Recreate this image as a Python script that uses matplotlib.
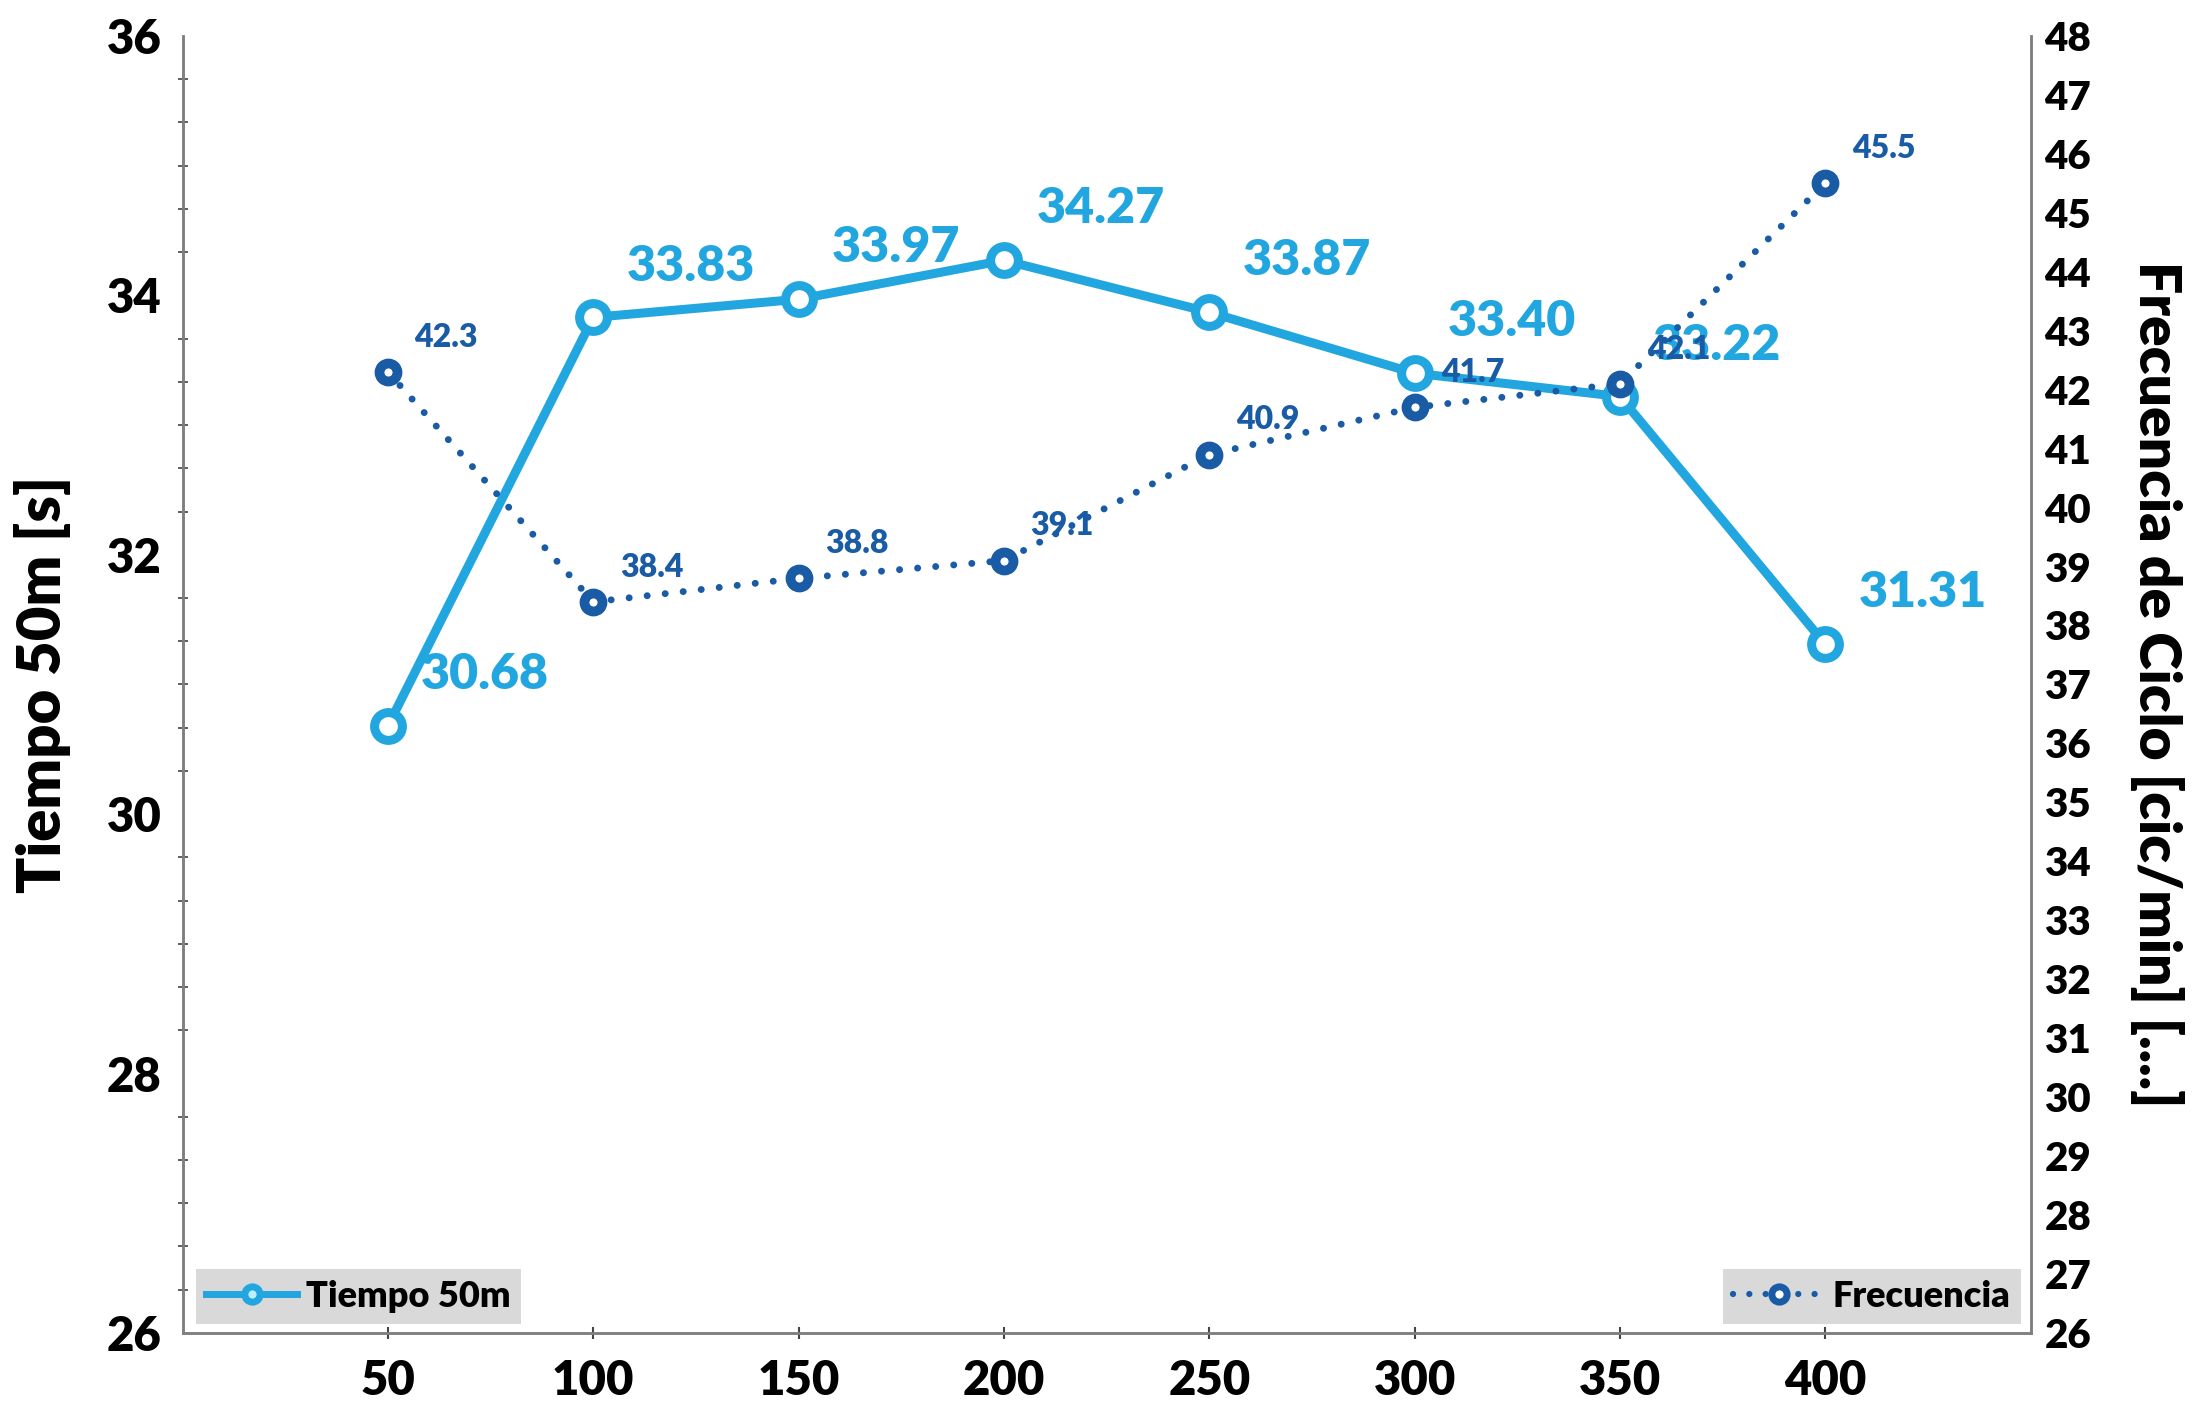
import matplotlib
matplotlib.use("Agg")
import matplotlib.pyplot as plt
from matplotlib.lines import Line2D
from matplotlib.ticker import AutoMinorLocator

plt.rcParams['font.family'] = ['Lato', 'DejaVu Sans']
plt.rcParams['font.weight'] = 'heavy'

# data
distancia = [50, 100, 150, 200, 250, 300, 350, 400]
tiempo = [30.68, 33.83, 33.97, 34.27, 33.87, 33.40, 33.22, 31.31]
frecuencia = [42.3, 38.4, 38.8, 39.1, 40.9, 41.7, 42.1, 45.5]

c_tiempo = '#22A6E0'
c_frec = '#1A5BA6'
c_axis = '#7F7F7F'
dots = (0, (0.01, 2.6))

fig = plt.figure(figsize=(22, 14.04), dpi=100)
ax1 = fig.add_axes([0.083, 0.0506, 0.84, 0.9238])
ax2 = ax1.twinx()

# tiempo (eje izquierdo)
ax1.plot(distancia, tiempo, color=c_tiempo, lw=6.5, marker='o', ms=20,
         mfc='white', mec=c_tiempo, mew=6.5, zorder=3)
for x, y in zip(distancia, tiempo):
    ax1.annotate(f'{y:.2f}', (x, y), xytext=(70, 37), textcoords='offset points',
                 ha='center', va='center', fontsize=36, color=c_tiempo,
                 fontweight='heavy')

# frecuencia (eje derecho)
ax2.plot(distancia, frecuencia, color=c_frec, lw=5, ls=dots,
         dash_capstyle='round', marker='o', ms=13, mfc='white', mec=c_frec,
         mew=7, zorder=3)
for x, y in zip(distancia, frecuencia):
    ax2.annotate(f'{y:.1f}', (x, y), xytext=(42, 25), textcoords='offset points',
                 ha='center', va='center', fontsize=23, color=c_frec,
                 fontweight='heavy')

ax1.set_xlim(0, 450)
ax1.set_ylim(26, 36)
ax2.set_ylim(26, 48)

ax1.set_xticks(distancia)
ax1.set_yticks(range(26, 37, 2))
ax1.yaxis.set_minor_locator(AutoMinorLocator(6))
ax2.set_yticks(range(26, 49))

ax1.spines['top'].set_visible(False)
ax2.spines['top'].set_visible(False)
for ax in (ax1, ax2):
    for sp in ['left', 'bottom', 'right']:
        ax.spines[sp].set_color(c_axis)
        ax.spines[sp].set_linewidth(1.8)

ax1.tick_params(axis='x', direction='inout', length=8, width=1.5, color='#444444',
                labelsize=34, pad=15)
ax1.tick_params(axis='y', which='major', direction='inout', length=0, labelsize=34, pad=15)
ax1.tick_params(axis='y', which='minor', direction='inout', length=7, width=1.2,
                color='#444444')
ax2.tick_params(axis='y', length=0, labelsize=29, pad=10)

for lab in ax1.get_xticklabels() + ax1.get_yticklabels() + ax2.get_yticklabels():
    lab.set_fontweight('heavy')

ax1.set_ylabel('Tiempo 50m [s]', fontsize=43, fontweight='heavy', labelpad=26)
ax2.set_ylabel('Frecuencia de Ciclo [cic/min] [....]', fontsize=41,
               fontweight='heavy', rotation=270, labelpad=67)

# legend handles, smaller than the plotted markers as in the original
h1 = Line2D([], [], color=c_tiempo, lw=5, marker='o', ms=11, mfc='#BFEFFF',
            mec=c_tiempo, mew=5, label='Tiempo 50m')
h2 = Line2D([], [], color=c_frec, lw=4.5, ls=dots, dash_capstyle='round',
            marker='o', ms=11, mfc='white', mec=c_frec, mew=5, label='Frecuencia')

leg_style = dict(borderaxespad=0, frameon=True, fancybox=False, facecolor='#D9D9D9',
                 edgecolor='none', framealpha=1, handlelength=2.5, handletextpad=0.25,
                 borderpad=0.3, prop={'size': 26, 'weight': 'heavy'})
ax1.legend(handles=[h1], loc='lower left', bbox_to_anchor=(0.007, 0.007), **leg_style)
ax2.legend(handles=[h2], loc='lower right', bbox_to_anchor=(0.995, 0.007), **leg_style)

fig.savefig('out.png', dpi=100)
